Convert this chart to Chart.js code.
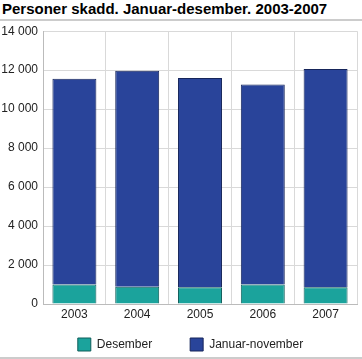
<!DOCTYPE html>
<html>
<head>
<meta charset="utf-8">
<script src="https://cdn.jsdelivr.net/npm/chart.js@4/dist/chart.umd.min.js"></script>
<style>
  body { margin: 0; background: #fff; font-family: "Liberation Sans", Arial, sans-serif; }
  #wrap { position: relative; width: 362px; height: 359px; overflow: hidden; }
  #title { position: absolute; left: 2px; top: 0px; font-size: 15px; line-height: 17px; font-weight: bold; color: #000; }
  .rule { position: absolute; left: 0; width: 362px; height: 2px; background: #ccc; }
  #box { position: absolute; left: 0; top: 19px; width: 362px; height: 343px; }
</style>
</head>
<body>
<div id="wrap">
  <div id="title">Personer skadd. Januar-desember. 2003-2007</div>
  <div id="box"><canvas id="chart"></canvas></div>
  <div class="rule" style="top:19px"></div>
  <div class="rule" style="top:357px"></div>
</div>
<script>
// Data lest av figuren
const years = ["2003", "2004", "2005", "2006", "2007"];
const desember = [1000, 890, 860, 1000, 860];
const januarNovember = [10560, 11080, 10740, 10260, 11200];

// legenden: stor avstand mellom elementene, men lav høyde
const legendSpacing = {
  id: "legendSpacing",
  beforeInit(chart) {
    const legend = chart.legend;
    const fit = legend.fit;
    legend.fit = function () { fit.call(this); this.height = 30; };
    const draw = legend.draw;
    legend.draw = function () {
      this.top -= 32; this.left += 12; this.right += 12;
      draw.call(this);
      this.top += 32; this.left -= 12; this.right -= 12;
    };
  }
};

const ctx = document.getElementById("chart").getContext("2d");
new Chart(ctx, {
  type: "bar",
  data: {
    labels: years,
    datasets: [
      {
        label: "Desember",
        data: desember,
        backgroundColor: "#1ba39c",
        borderColor: "#0f5e5a",
        borderWidth: 1,
        categoryPercentage: 0.7,
        barPercentage: 1
      },
      {
        label: "Januar-november",
        data: januarNovember,
        backgroundColor: "#29449a",
        borderColor: "#16255a",
        borderWidth: 1,
        categoryPercentage: 0.7,
        barPercentage: 1
      }
    ]
  },
  options: {
    responsive: true,
    maintainAspectRatio: false,
    animation: false,
    layout: { padding: { left: 0, right: 5, top: 0, bottom: 0 } },
    scales: {
      x: {
        stacked: true,
        grid: { color: "#d9d9d9", offset: true, drawTicks: false },
        border: { color: "#bbb" },
        ticks: { color: "#222", font: { family: "Liberation Sans", size: 12 }, padding: 3 },
        afterFit: s => { s.height = 28; }
      },
      y: {
        stacked: true,
        min: 0,
        max: 14000,
        grid: { color: "#d9d9d9", drawTicks: false },
        border: { color: "#bbb" },
        ticks: {
          stepSize: 2000,
          color: "#222",
          padding: 5,
          font: { family: "Liberation Sans", size: 12 },
          callback: v => v.toLocaleString("nb-NO").replace(/\s/g, " ")
        },
        afterFit: s => { s.width = 43; }
      }
    },
    plugins: {
      legend: {
        position: "bottom",
        labels: {
          boxWidth: 13,
          boxHeight: 13,
          padding: 38,
          color: "#222",
          font: { family: "Liberation Sans", size: 12 }
        }
      },
      tooltip: { enabled: false }
    }
  },
  plugins: [legendSpacing]
});
</script>
</body>
</html>
